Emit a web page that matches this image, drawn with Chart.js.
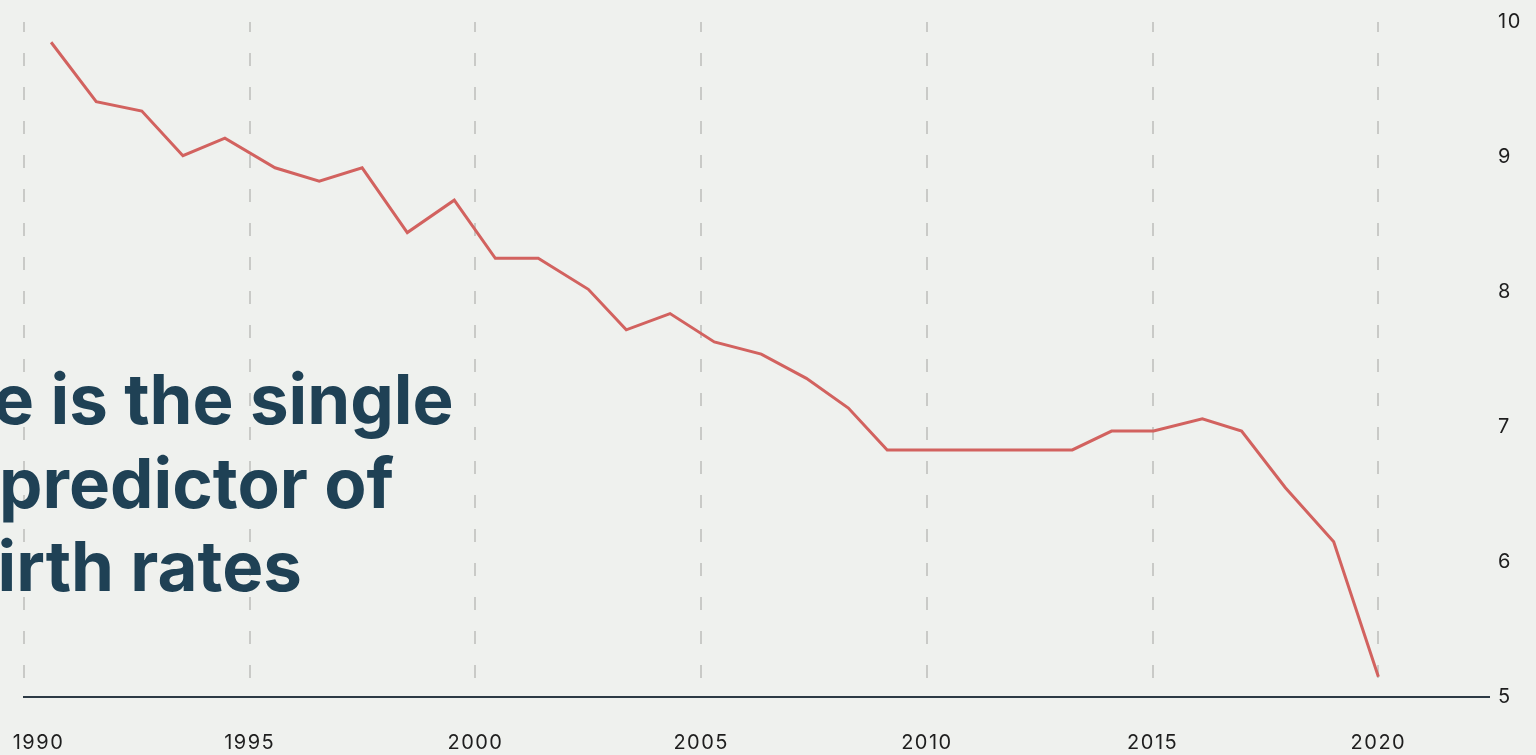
<!DOCTYPE html>
<html>
<head>
<meta charset="utf-8">
<script src="https://cdn.jsdelivr.net/npm/chart.js@4/dist/chart.umd.min.js"></script>
<style>
  html, body { margin: 0; padding: 0; background: #eff1ee; overflow: hidden; }
  #wrap { position: relative; width: 1536px; height: 755px; }
  #wrap canvas { position: absolute; left: 0; top: 0; }
  .headline {
    position: absolute;
    font-family: Inter, "Noto Sans", sans-serif;
    font-weight: 700;
    font-size: 69px;
    line-height: 69px;
    color: #1f4155;
    white-space: nowrap;
  }
</style>
</head>
<body>
<div id="wrap">
  <canvas id="chart" width="1536" height="755"></canvas>
  <div class="headline" style="left:-7px; top:365px;">e is the single</div>
  <div class="headline" style="left:-1px; top:449px;">predictor of</div>
  <div class="headline" style="left:-46px; top:532px;">birth rates</div>
</div>
<script>
// births per 1,000 people
const years = [1990.6, 1991.6, 1992.61, 1993.52, 1994.45, 1995.56, 1996.54, 1997.49,
  1998.49, 1999.53, 2000.44, 2001.39, 2002.5, 2003.34, 2004.31, 2005.29, 2006.33,
  2007.33, 2008.26, 2009.12, 2010.14, 2011.14, 2012.14, 2013.22, 2014.09, 2015.02,
  2016.1, 2016.97, 2017.94, 2019.01, 2020.0];
const rates = [9.85, 9.41, 9.34, 9.01, 9.14, 8.92, 8.82, 8.92, 8.44, 8.68, 8.25, 8.25,
  8.02, 7.72, 7.84, 7.63, 7.54, 7.36, 7.14, 6.83, 6.83, 6.83, 6.83, 6.83, 6.97, 6.97,
  7.06, 6.97, 6.55, 6.15, 5.15];
const xTicks = [1990, 1995, 2000, 2005, 2010, 2015, 2020];
const yTicks = [5, 6, 7, 8, 9, 10];

const tickFont = { family: "Inter, 'Noto Sans', sans-serif", size: 20 };

// the reference's axis numbers are a little spaced out
const letterSpacing = {
  id: "letterSpacing",
  beforeInit: (chart) => { chart.ctx.letterSpacing = "1.5px"; },
  beforeDraw: (chart) => { chart.ctx.letterSpacing = "1.5px"; },
};

new Chart(document.getElementById("chart"), {
  type: "line",
  data: {
    datasets: [{
      data: years.map((y, i) => ({ x: y, y: rates[i] })),
      borderColor: "#d2625f",
      borderWidth: 3,
      pointRadius: 0,
      tension: 0,
      fill: false,
    }],
  },
  options: {
    responsive: false,
    animation: false,
    layout: { padding: { left: 24, top: 22, right: 0, bottom: 0 } },
    plugins: { legend: { display: false }, tooltip: { enabled: false } },
    scales: {
      x: {
        type: "linear",
        min: 1990,
        max: 2022.45,
        afterBuildTicks: (s) => { s.ticks = xTicks.map((v) => ({ value: v })); },
        afterFit: (s) => { s.height = 58; s.paddingLeft = 0; s.paddingRight = 0; },
        grid: {
          color: "#c9cac7",
          lineWidth: 2,
          drawTicks: false,
        },
        border: { display: true, color: "#2c3a45", width: 2, dash: [13, 21], dashOffset: 3 },
        ticks: {
          padding: 34,
          color: "#1e1e1e",
          font: tickFont,
          maxRotation: 0,
          autoSkip: false,
          callback: (v) => (v === 1990 ? "\u2007\u20071990" : String(v)),
        },
      },
      y: {
        position: "right",
        min: 5,
        max: 10,
        afterBuildTicks: (s) => { s.ticks = yTicks.map((v) => ({ value: v })); },
        afterFit: (s) => { s.width = 47; },
        grid: { display: false, drawTicks: false },
        border: { display: false },
        ticks: { padding: 9, color: "#1e1e1e", font: tickFont },
      },
    },
  },
  plugins: [letterSpacing],
});
</script>
</body>
</html>
